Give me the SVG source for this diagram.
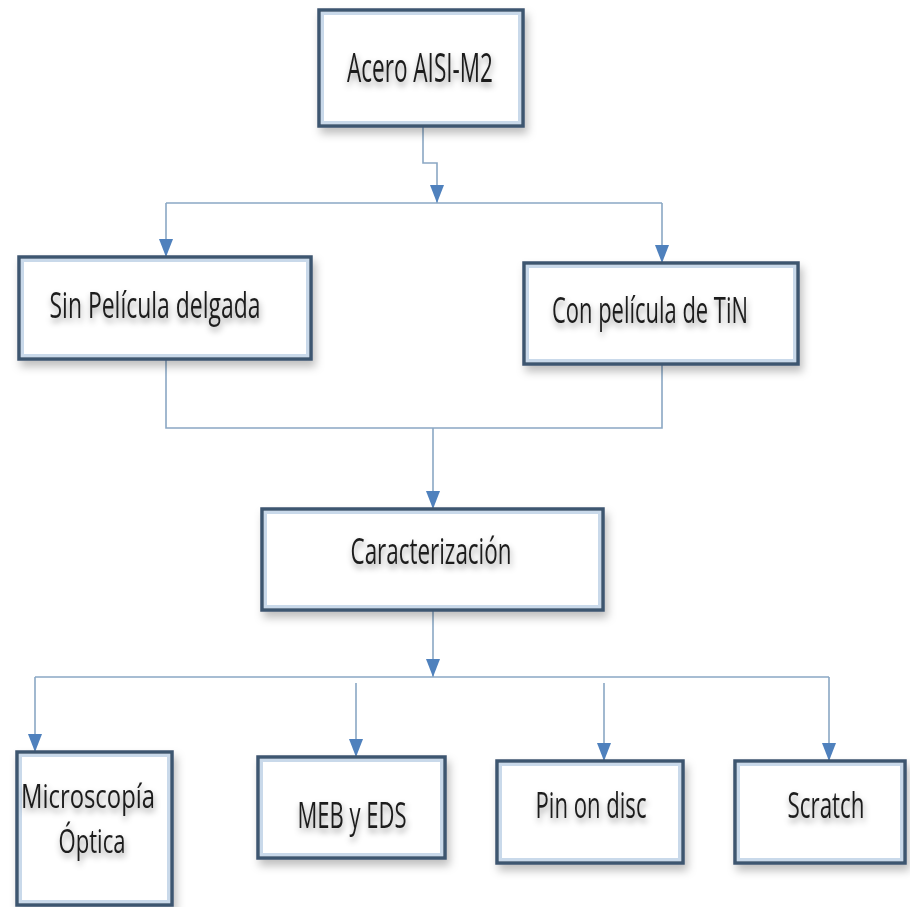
<svg xmlns="http://www.w3.org/2000/svg" width="910" height="907" viewBox="0 0 910 907">
<style>
.box{fill:#ffffff;stroke:#3d5670;stroke-width:3.5;filter:url(#sh)}
.inner{fill:none;stroke:#c9d9ea;stroke-width:3}
.lbl{font-family:"Open Sans","Liberation Sans",sans-serif;font-size:36px;fill:#1e1e1e;text-anchor:middle;filter:url(#tsh)}
.con{fill:none;stroke:#8aa7c4;stroke-width:1.6}
</style>
<defs>
<filter id="sh" x="-10%" y="-10%" width="125%" height="135%">
<feDropShadow dx="3" dy="6" stdDeviation="4" flood-color="#000" flood-opacity="0.25"/>
</filter>
<filter id="tsh" x="-10%" y="-20%" width="120%" height="170%">
<feDropShadow dx="1" dy="4" stdDeviation="3" flood-color="#000" flood-opacity="0.4"/>
</filter>
<marker id="arrL" viewBox="0 0 18 14" refX="18" refY="7" markerWidth="18" markerHeight="14" markerUnits="userSpaceOnUse" orient="auto">
<path d="M0,0 L18,7 L0,14 Z" fill="#4f81bd"/>
</marker>
</defs>
<rect width="910" height="907" fill="#ffffff"/>
<g id="connectors">
<path class="con" d="M423,126 V163 H437 V203" marker-end="url(#arrL)"/>
<path class="con" d="M166,203 H662"/>
<path class="con" d="M166,203 V257" marker-end="url(#arrL)"/>
<path class="con" d="M662,203 V263" marker-end="url(#arrL)"/>
<path class="con" d="M166,359 V428 H662 V364"/>
<path class="con" d="M433,428 V509" marker-end="url(#arrL)"/>
<path class="con" d="M433,610 V677" marker-end="url(#arrL)"/>
<path class="con" d="M35,677 H829"/>
<path class="con" d="M35,677 V752" marker-end="url(#arrL)"/>
<path class="con" d="M356,683 V757" marker-end="url(#arrL)"/>
<path class="con" d="M604,683 V761" marker-end="url(#arrL)"/>
<path class="con" d="M829,677 V761" marker-end="url(#arrL)"/>
</g>
<g id="acero">
<rect class="box" x="319" y="10" width="204" height="116"/>
<rect class="inner" x="322.5" y="13.5" width="197" height="109"/>
<text class="lbl" x="420" y="82" style="font-size:41px" textLength="146" lengthAdjust="spacingAndGlyphs">Acero AISI-M2</text>
</g>
<g id="sin">
<rect class="box" x="19" y="257" width="292" height="102"/>
<rect class="inner" x="22.5" y="260.5" width="285" height="95"/>
<text class="lbl" x="155" y="318" textLength="211" lengthAdjust="spacingAndGlyphs">Sin Película delgada</text>
</g>
<g id="con">
<rect class="box" x="524" y="263" width="274" height="101"/>
<rect class="inner" x="527.5" y="266.5" width="267" height="94"/>
<text class="lbl" x="650" y="323" textLength="196" lengthAdjust="spacingAndGlyphs">Con película de TiN</text>
</g>
<g id="caracterizacion">
<rect class="box" x="262" y="509" width="341" height="101"/>
<rect class="inner" x="265.5" y="512.5" width="334" height="94"/>
<text class="lbl" x="431" y="564" textLength="161" lengthAdjust="spacingAndGlyphs">Caracterización</text>
</g>
<g id="microscopia">
<rect class="box" x="17" y="752" width="155" height="153"/>
<rect class="inner" x="20.5" y="755.5" width="148" height="146"/>
<text class="lbl" x="88" y="808" style="font-size:32px" textLength="134" lengthAdjust="spacingAndGlyphs">Microscopía</text>
<text class="lbl" x="92" y="853" style="font-size:32px" textLength="67" lengthAdjust="spacingAndGlyphs">Óptica</text>
</g>
<g id="meb">
<rect class="box" x="258" y="757" width="187" height="101"/>
<rect class="inner" x="261.5" y="760.5" width="180" height="94"/>
<text class="lbl" x="352" y="828" textLength="109" lengthAdjust="spacingAndGlyphs">MEB y EDS</text>
</g>
<g id="pin">
<rect class="box" x="497" y="761" width="186" height="102"/>
<rect class="inner" x="500.5" y="764.5" width="179" height="95"/>
<text class="lbl" x="591" y="818" textLength="111" lengthAdjust="spacingAndGlyphs">Pin on disc</text>
</g>
<g id="scratch">
<rect class="box" x="735" y="761" width="170" height="102"/>
<rect class="inner" x="738.5" y="764.5" width="163" height="95"/>
<text class="lbl" x="826" y="818" textLength="77" lengthAdjust="spacingAndGlyphs">Scratch</text>
</g>
</svg>
